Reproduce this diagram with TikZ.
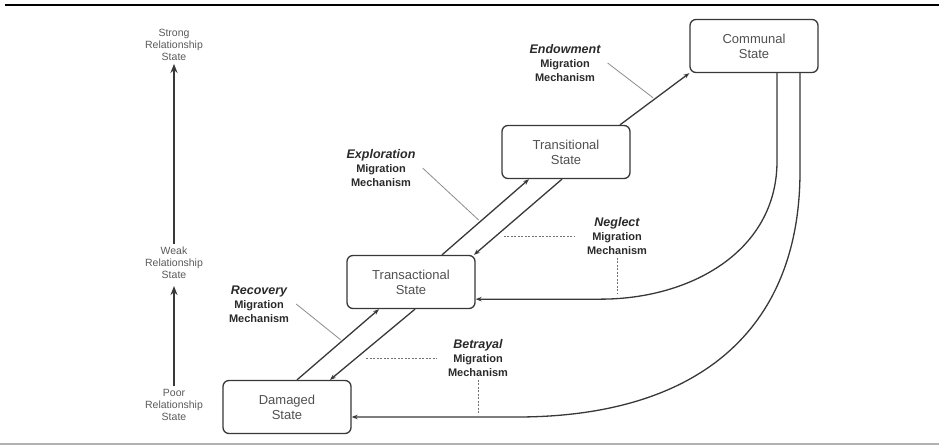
\documentclass[tikz,border=0pt]{standalone}
\usepackage{fontspec}
\setmainfont{Liberation Sans}
\usetikzlibrary{calc,positioning,arrows.meta}

\definecolor{lineGray}{HTML}{383838}
\definecolor{boxText}{HTML}{505050}
\definecolor{levelText}{HTML}{5A5A5A}
\definecolor{mechText}{HTML}{2A2A2A}

\begin{document}
\begin{tikzpicture}[x=1pt, y=-1pt,
    state_box/.style={draw=lineGray, line width=1.3pt, rounded corners=6pt,
      minimum width=\boxWidth, minimum height=\boxHeight, inner sep=0pt,
      align=center, text=boxText, font=\fontsize{13}{15}\selectfont},
    level_label/.style={align=center, text=levelText, inner sep=3pt,
      font=\fontsize{10.5}{12}\selectfont},
    mech_label/.style={align=center, text=mechText, inner sep=3pt,
      font=\fontsize{11}{14}\selectfont\bfseries},
    flow/.style={draw=lineGray, line width=1.3pt, -{Stealth[length=6pt,width=4.5pt]}},
    level_arrow/.style={draw=lineGray, line width=2.4pt, -{Stealth[length=9pt,width=7pt]}},
    leader/.style={draw=black!45, line width=0.8pt},
    dash_leader/.style={draw=black!55, line width=0.8pt, dash pattern=on 2pt off 1.5pt}]

    \def \boxWidth {128pt};
    \def \boxHeight {53pt};

    \useasboundingbox (0,0) rectangle (939,447);
    \draw[black, line width=2.2pt] (5,5) -- (939,5);
    \draw[black!30, line width=1.2pt] (0,444) -- (939,444);

    % relationship levels on the left
    \foreach \name/\y/\level in {poor/405/Poor, weak/263/Weak, strong/45/Strong} {
      \node[level_label] (level_\name) at (174,\y) {\level\\Relationship\\State};
    }
    \draw[level_arrow, shorten >=4pt] (level_poor) -- (level_weak);
    \draw[level_arrow] (level_weak) -- (level_strong);

    % states
    \foreach \name/\x/\y/\state in {damaged/287/407/Damaged,
      transactional/411/282/Transactional,
      transitional/566/152/Transitional,
      communal/754/46/Communal} {
      \node[state_box] (state_\name) at (\x,\y) {\state\\State};
    }

    % migration mechanisms
    \foreach \name/\x/\y/\mech in {endowment/565/63/Endowment,
      exploration/381/168/Exploration,
      recovery/259/304/Recovery,
      betrayal/478/358/Betrayal,
      neglect/617/236/Neglect} {
      \node[mech_label] (mech_\name) at (\x,\y)
      {{\fontsize{12.5}{14}\selectfont\itshape \mech}\\Migration\\Mechanism};
    }

    % flows between states
    \draw[flow] ([xshift=10pt]state_damaged.north) -- ([xshift=-32pt]state_transactional.south)
      coordinate[pos=0.55] (recovery_point);
    \draw[flow] ([xshift=4pt]state_transactional.south) -- ([xshift=43pt]state_damaged.north)
      coordinate[pos=0.667] (betrayal_point);
    \draw[flow] ([xshift=31pt]state_transactional.north) -- ([xshift=-37pt]state_transitional.south)
      coordinate[pos=0.44] (exploration_point);
    \draw[flow] ([xshift=-4pt]state_transitional.south) -- ([xshift=63pt]state_transactional.north)
      coordinate[pos=0.73] (neglect_point);
    \draw[flow] ([xshift=54pt]state_transitional.north) -- (state_communal.south west)
      coordinate[pos=0.5] (endowment_point);

    \coordinate (transactional_in) at ([yshift=10pt]state_transactional.south east);
    \coordinate (damaged_in) at ([yshift=-10pt]state_damaged.east);
    \draw[flow] ([xshift=23pt]state_communal.south) -- ++(0,88)
      .. controls +(0,90) and +(90,0) .. ($(transactional_in)+(125,0)$) -- (transactional_in);
    \draw[flow] ([xshift=46pt]state_communal.south) -- ++(0,98)
      .. controls +(0,160) and +(180,0) .. ($(damaged_in)+(165,0)$) -- (damaged_in);

    % leaders
    \foreach \name in {endowment, exploration, recovery} {
      \draw[leader, shorten >=2pt] ([xshift=4pt]mech_\name.east) -- (\name_point);
    }
    \draw[dash_leader] ($(mech_betrayal.west -| betrayal_point)+(8,0)$) -- ([xshift=-8pt]mech_betrayal.west);
    \draw[dash_leader] (mech_betrayal.south) -- ($(mech_betrayal.south |- damaged_in)+(0,-3)$);
    \draw[dash_leader] ($(mech_neglect.west -| neglect_point)+(6,0)$) -- ([xshift=-10pt]mech_neglect.west);
    \draw[dash_leader] (mech_neglect.south) -- ($(mech_neglect.south |- transactional_in)+(0,-5)$);
  \end{tikzpicture}
\end{document}
